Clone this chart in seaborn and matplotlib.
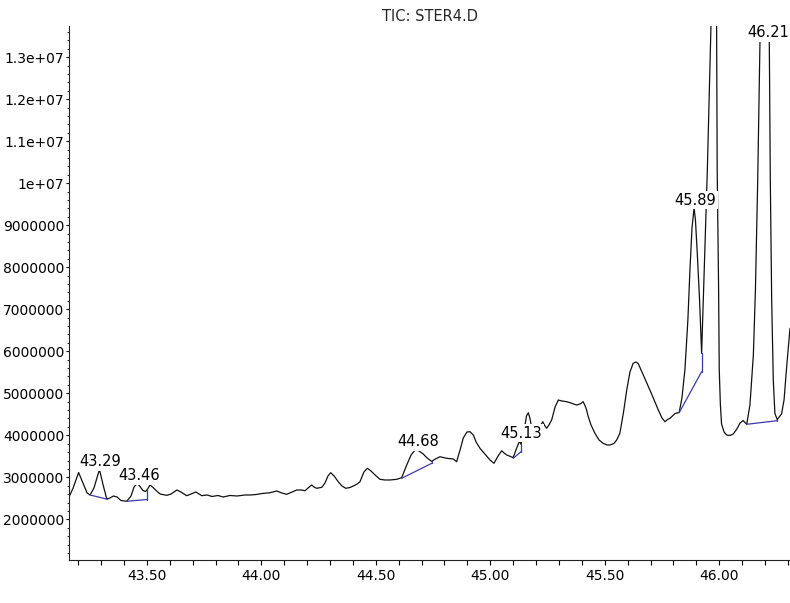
import numpy as np
import pandas as pd
import matplotlib
matplotlib.use("Agg")
import matplotlib.pyplot as plt
from matplotlib.ticker import FixedLocator, FixedFormatter, MultipleLocator, FormatStrFormatter
import seaborn as sns

# Total ion chromatogram trace: retention time (min) and abundance (millions of counts)
retention_time = [
    43.160, 43.178, 43.202, 43.221, 43.239, 43.252, 43.269, 43.293, 43.309, 43.325,
    43.339, 43.354, 43.370, 43.387, 43.412, 43.431, 43.444, 43.459, 43.470, 43.483,
    43.494, 43.502, 43.514, 43.527, 43.545, 43.558, 43.587, 43.606, 43.631, 43.649,
    43.674, 43.693, 43.714, 43.728, 43.740, 43.763, 43.785, 43.811, 43.833, 43.863,
    43.894, 43.929, 43.951, 43.977, 44.003, 44.038, 44.067, 44.090, 44.111, 44.134,
    44.155, 44.173, 44.191, 44.204, 44.220, 44.230, 44.242, 44.264, 44.278, 44.291,
    44.303, 44.318, 44.336, 44.352, 44.369, 44.387, 44.402, 44.418, 44.431, 44.448,
    44.463, 44.479, 44.497, 44.518, 44.540, 44.562, 44.591, 44.613, 44.635, 44.654,
    44.674, 44.689, 44.707, 44.724, 44.744, 44.758, 44.780, 44.810, 44.838, 44.853,
    44.868, 44.882, 44.898, 44.911, 44.926, 44.938, 44.955, 44.984, 44.999, 45.016,
    45.034, 45.050, 45.060, 45.072, 45.100, 45.117, 45.128, 45.134, 45.147, 45.158,
    45.166, 45.173, 45.181, 45.191, 45.204, 45.214, 45.229, 45.239, 45.246, 45.256,
    45.268, 45.283, 45.297, 45.313, 45.334, 45.352, 45.377, 45.392, 45.406, 45.418,
    45.428, 45.440, 45.457, 45.475, 45.493, 45.510, 45.523, 45.540, 45.552, 45.566,
    45.582, 45.596, 45.610, 45.624, 45.636, 45.646, 45.668, 45.697, 45.719, 45.734,
    45.750, 45.763, 45.774, 45.785, 45.807, 45.825, 45.837, 45.850, 45.863, 45.872,
    45.881, 45.890, 45.896, 45.904, 45.914, 45.923, 45.930, 45.939, 45.948, 45.985,
    45.991, 45.997, 46.000, 46.005, 46.010, 46.021, 46.032, 46.047, 46.061, 46.077,
    46.090, 46.104, 46.120, 46.134, 46.149, 46.158, 46.168, 46.206, 46.223, 46.229,
    46.236, 46.243, 46.253, 46.272, 46.283, 46.294, 46.309,
]
abundance_m = [
    2.531, 2.745, 3.114, 2.864, 2.626, 2.579, 2.745, 3.186, 2.817, 2.483,
    2.507, 2.555, 2.531, 2.448, 2.429, 2.555, 2.769, 2.857, 2.781, 2.686,
    2.662, 2.710, 2.817, 2.757, 2.662, 2.602, 2.571, 2.602, 2.698, 2.650,
    2.562, 2.602, 2.650, 2.602, 2.562, 2.579, 2.543, 2.567, 2.531, 2.567,
    2.555, 2.579, 2.579, 2.590, 2.614, 2.633, 2.674, 2.626, 2.595, 2.650,
    2.698, 2.698, 2.681, 2.745, 2.817, 2.769, 2.738, 2.762, 2.864, 3.031,
    3.110, 3.031, 2.895, 2.793, 2.738, 2.757, 2.793, 2.840, 2.895, 3.126,
    3.214, 3.150, 3.055, 2.952, 2.936, 2.936, 2.952, 2.990, 3.293, 3.531,
    3.667, 3.626, 3.555, 3.460, 3.380, 3.429, 3.490, 3.452, 3.436, 3.371,
    3.650, 3.936, 4.079, 4.086, 4.007, 3.840, 3.690, 3.507, 3.412, 3.333,
    3.507, 3.633, 3.579, 3.531, 3.470, 3.721, 3.864, 3.786, 4.079, 4.460,
    4.538, 4.412, 4.167, 3.983, 4.031, 4.167, 4.324, 4.221, 4.167, 4.245,
    4.364, 4.674, 4.840, 4.817, 4.800, 4.769, 4.721, 4.745, 4.800, 4.650,
    4.443, 4.245, 4.048, 3.888, 3.810, 3.769, 3.769, 3.805, 3.888, 4.048,
    4.555, 5.079, 5.507, 5.714, 5.745, 5.710, 5.436, 5.079, 4.793, 4.602,
    4.412, 4.324, 4.376, 4.405, 4.519, 4.543, 4.888, 5.555, 6.745, 7.936,
    8.936, 9.412, 9.126, 8.340, 7.221, 5.952, 7.150, 8.745, 10.317, 18.340,
    10.317, 7.579, 5.555, 4.721, 4.269, 4.079, 4.007, 3.995, 4.031, 4.150,
    4.286, 4.352, 4.262, 4.721, 5.914, 7.460, 10.079, 22.793, 10.079, 7.221,
    5.317, 4.524, 4.376, 4.507, 4.840, 5.602, 6.548,
]

# Integrated peaks: apex retention time, baseline start (rt, abundance) and end (rt, abundance)
peak_rt = [43.29, 43.46, 44.68, 45.13, 45.89, 46.21]
base_start_rt = [43.252, 43.412, 44.613, 45.100, 45.825, 46.120]
base_start_m = [2.579, 2.429, 2.976, 3.452, 4.538, 4.262]
base_end_rt = [43.329, 43.502, 44.744, 45.134, 45.923, 46.253]
base_end_m = [2.476, 2.471, 3.333, 3.610, 5.514, 4.348]

y_tick_values = [2e6, 3e6, 4e6, 5e6, 6e6, 7e6, 8e6, 9e6, 1e7, 1.1e7, 1.2e7, 1.3e7]
y_tick_labels = ["2000000", "3000000", "4000000", "5000000", "6000000", "7000000",
                 "8000000", "9000000", "1e+07", "1.1e+07", "1.2e+07", "1.3e+07"]

x_limits = (43.160, 46.309)
y_limits = (1.031e6, 13.757e6)

sns.set_style("ticks")
plt.rcParams["font.family"] = ["DejaVu Sans"]
plt.rcParams["font.size"] = 10

trace = pd.DataFrame({"rt": retention_time,
                      "abundance": np.array(abundance_m) * 1e6})

fig = plt.figure(figsize=(7.90, 6.03), dpi=100)
ax = fig.add_axes([69 / 790, 43 / 603, 721 / 790, 534.5 / 603])

sns.lineplot(data=trace, x="rt", y="abundance", ax=ax, color="#111111",
             linewidth=0.9, sort=False, estimator=None)

rt_arr = trace["rt"].to_numpy()
ab_arr = trace["abundance"].to_numpy()
baseline_color = "#3a3aa6"

# Baselines and drop lines of the integrated peaks
for s_rt, s_m, e_rt, e_m in zip(base_start_rt, base_start_m, base_end_rt, base_end_m):
    ax.plot([s_rt, e_rt], [s_m * 1e6, e_m * 1e6], color=baseline_color,
            linewidth=0.9, zorder=3)
    curve_at_end = np.interp(e_rt, rt_arr, ab_arr)
    ax.plot([e_rt, e_rt], [e_m * 1e6, curve_at_end], color=baseline_color,
            linewidth=0.9, zorder=3)

# Retention time labels above each integrated peak
for rt in peak_rt:
    window = (rt_arr >= rt - 0.012) & (rt_arr <= rt + 0.012)
    apex = ab_arr[window].max()
    if apex > y_limits[1]:
        anchor, offset = y_limits[1], -5.2
    else:
        anchor, offset = apex, 5.6
    ax.annotate(f"{rt:.2f}", xy=(rt, anchor), xytext=(1, offset),
                textcoords="offset points", ha="center", va="center",
                fontsize=10.5, color="black", zorder=6, annotation_clip=False,
                bbox=dict(boxstyle="square,pad=0.12", fc="white", ec="none"))

ax.set_xlim(*x_limits)
ax.set_ylim(*y_limits)

ax.xaxis.set_major_locator(MultipleLocator(0.5))
ax.xaxis.set_major_formatter(FormatStrFormatter("%.2f"))
ax.xaxis.set_minor_locator(MultipleLocator(0.1))
ax.yaxis.set_major_locator(FixedLocator(y_tick_values))
ax.yaxis.set_major_formatter(FixedFormatter(y_tick_labels))
ax.yaxis.set_minor_locator(MultipleLocator(2e5))

ax.tick_params(axis="x", which="both", direction="out", length=3.6, width=0.8,
               pad=3, labelsize=10, colors="black")
ax.tick_params(axis="y", which="major", direction="out", length=2.5, width=0.8,
               pad=1, labelsize=10, colors="black")
ax.tick_params(axis="y", which="minor", direction="out", length=1.2, width=0.7)

for side in ("top", "right"):
    ax.spines[side].set_visible(False)
for side in ("left", "bottom"):
    ax.spines[side].set_linewidth(0.8)
    ax.spines[side].set_color("#222222")

ax.set_xlabel("")
ax.set_ylabel("")
ax.set_title("TIC: STER4.D", fontsize=10.5, pad=3)

fig.savefig("out.png", dpi=100, facecolor="white")
